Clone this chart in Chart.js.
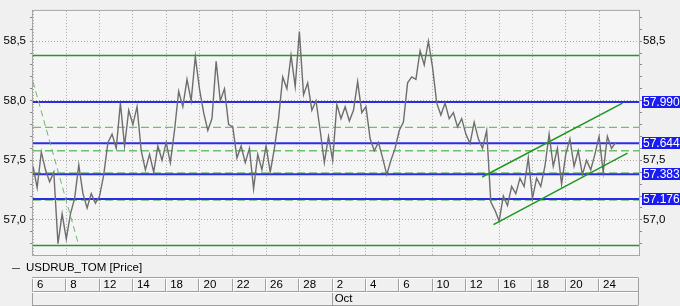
<!DOCTYPE html>
<html><head><meta charset="utf-8">
<script src="https://cdn.jsdelivr.net/npm/chart.js@4.4.1/dist/chart.umd.min.js"></script>
<style>html,body{margin:0;padding:0;background:#f0f0f0;overflow:hidden}canvas{display:block}</style>
</head><body>
<canvas id="c" width="680" height="306"></canvas>
<script>
// ---- data ----
const xTickDays   = [0,2,4,6,8,10,12,14,16,18,20,22,24,26,28,30,32,34];
const xTickLabels = ['6','8','12','14','18','20','22','26','28','2','4','6','10','12','16','18','20','24'];
const monthDays   = [18];
const monthLabels = ['Oct'];
const priceStepDays = 0.25;
const priceValues = [
 57.45,57.27,57.57,57.42,57.32,57.40,56.80,57.05,56.84,57.05,
 57.18,57.46,57.22,57.10,57.22,57.14,57.20,57.38,57.65,57.72,
 57.60,57.98,57.62,57.92,57.80,57.95,57.58,57.42,57.55,57.40,
 57.62,57.50,57.65,57.48,57.75,58.08,57.95,58.18,58.00,58.37,
 58.10,57.90,57.75,57.85,58.33,58.00,58.10,57.80,57.78,57.52,
 57.62,57.48,57.60,57.26,57.55,57.42,57.62,57.40,57.60,57.85,
 58.20,58.10,58.38,58.12,58.58,58.05,58.15,57.92,58.00,57.75,
 57.48,57.70,57.50,57.97,57.85,57.95,57.83,57.92,58.16,57.90,
 57.95,57.68,57.58,57.65,57.52,57.38,57.50,57.60,57.75,57.82,
 58.15,58.20,58.18,58.42,58.30,58.50,58.28,57.98,57.88,57.98,
 57.85,57.90,57.78,57.85,57.72,57.64,57.82,57.68,57.60,57.75,
 57.15,57.08,56.99,57.20,57.12,57.28,57.22,57.35,57.28,57.52,
 57.18,57.35,57.28,57.45,57.72,57.45,57.60,57.30,57.55,57.68,
 57.45,57.58,57.38,57.50,57.42,57.55,57.70,57.40,57.70,57.60,
 57.65
];
const yMajorTicks  = [57.0, 57.5, 58.0, 58.5];
const yMajorLabels = ['57,0','57,5','58,0','58,5'];
const blueLevels        = [57.990, 57.644, 57.383, 57.176];
const greenSolidLevels  = [58.38, 56.785];
const greenDashedLevels = [57.776, 57.58, 57.395, 57.165];
const steepLine    = [[0, 58.16], [2.7, 56.81]];
const channelUpper = [[26.98, 57.36], [35.41, 57.98]];
const channelLower = [[27.66, 56.96], [35.71, 57.56]];
const seriesName = 'USDRUB_TOM [Price]';
const xMin = 0, xMax = 36.4, yMin = 56.705, yMax = 58.754;

// ---- build ----
const FONT = '"Liberation Sans", Arial, sans-serif';
const pricePoints = priceValues.map((v, i) => ({x: i * priceStepDays, y: v}));
const hline = v => [{x: xMin, y: v}, {x: xMax, y: v}];
const seg = s => s.map(p => ({x: p[0], y: p[1]}));
const minorTicks = [];
for (let k = 568; k <= 587; k++) minorTicks.push(k / 10);
const isMajor = v => yMajorTicks.some(m => Math.abs(m - v) < 1e-6);
const majorLabel = v => { const i = yMajorTicks.findIndex(m => Math.abs(m - v) < 1e-6); return i >= 0 ? yMajorLabels[i] : ''; };

const datasets = [];
greenDashedLevels.forEach(v => datasets.push({data: hline(v), borderColor: '#6fbf6f', borderWidth: 1.3, borderDash: [8, 4], order: 5}));
greenSolidLevels.forEach(v => datasets.push({data: hline(v), borderColor: '#2a962a', borderWidth: 1.6, order: 4}));
blueLevels.forEach(v => datasets.push({data: hline(v), borderColor: '#2c2ce6', borderWidth: 2, order: 3}));
datasets.push({data: pricePoints, borderColor: '#6e6e6e', borderWidth: 1.4, order: 2, label: seriesName});
datasets.push({data: seg(steepLine), borderColor: '#66bb66', borderWidth: 1, borderDash: [6, 4], order: 1});
datasets.push({data: seg(channelUpper), borderColor: '#1f961f', borderWidth: 1.5, order: 1});
datasets.push({data: seg(channelLower), borderColor: '#1f961f', borderWidth: 1.5, order: 1});

const decor = {
  id: 'decor',
  beforeDraw(chart) {
    const {ctx, chartArea: a} = chart;
    ctx.save();
    ctx.fillStyle = '#f0f0f0'; ctx.fillRect(0, 0, chart.width, chart.height);
    ctx.fillStyle = '#f5f5f5'; ctx.fillRect(a.left, a.top, a.right - a.left, a.bottom - a.top);
    ctx.restore();
  },
  afterDraw(chart) {
    const {ctx, chartArea: a, scales} = chart;
    ctx.save();
    // plot border
    ctx.strokeStyle = '#a8a8a8'; ctx.lineWidth = 1;
    ctx.strokeRect(a.left - 0.5, a.top - 0.5, a.right - a.left + 1, a.bottom - a.top + 1);
    // legend
    ctx.strokeStyle = '#555'; ctx.lineWidth = 1;
    ctx.beginPath(); ctx.moveTo(12, 268.5); ctx.lineTo(20, 268.5); ctx.stroke();
    ctx.fillStyle = '#000'; ctx.font = '11.5px ' + FONT; ctx.textBaseline = 'middle'; ctx.textAlign = 'left';
    ctx.fillText(seriesName, 26, 268);
    // x band cells
    const L = a.left - 1, R = a.right - 1, r1 = 277.5, r2 = 291.5, r3 = 305.5;
    ctx.strokeStyle = '#a0a0a0';
    ctx.beginPath();
    ctx.moveTo(L, r1); ctx.lineTo(R, r1);
    ctx.moveTo(L, r2); ctx.lineTo(R, r2);
    ctx.moveTo(L, r3); ctx.lineTo(R, r3);
    ctx.moveTo(R + 0.5, r1); ctx.lineTo(R + 0.5, r3);
    xTickDays.forEach(d => { const px = Math.round(scales.x.getPixelForValue(d)) - 0.5; ctx.moveTo(px, r1); ctx.lineTo(px, r2); });
    ctx.moveTo(L + 0.5, r2); ctx.lineTo(L + 0.5, r3);
    monthDays.forEach(d => { const px = Math.round(scales.x.getPixelForValue(d)) - 0.5; ctx.moveTo(px, r2); ctx.lineTo(px, r3); });
    ctx.stroke();
    ctx.strokeStyle = '#ffffff';
    ctx.beginPath();
    ctx.moveTo(L, r1 + 1); ctx.lineTo(R, r1 + 1);
    ctx.moveTo(L, r2 + 1); ctx.lineTo(R, r2 + 1);
    xTickDays.forEach(d => { const px = Math.round(scales.x.getPixelForValue(d)) + 0.5; ctx.moveTo(px, r1 + 1); ctx.lineTo(px, r2); });
    ctx.stroke();
    // value boxes on right
    ctx.font = '12px ' + FONT; ctx.textBaseline = 'middle';
    blueLevels.forEach(v => {
      const py = scales.y.getPixelForValue(v);
      ctx.fillStyle = '#1a1af2';
      ctx.fillRect(642, Math.round(py) - 6, 38, 12);
      ctx.fillStyle = '#ffffff';
      ctx.fillText(v.toFixed(3), 643, py + 0.5);
    });
    ctx.restore();
  }
};

const tickFont = {family: FONT, size: 11.5};
new Chart(document.getElementById('c'), {
  type: 'line',
  data: {datasets},
  options: {
    responsive: false, animation: false, devicePixelRatio: 1,
    layout: {padding: {top: 5, left: 0, right: 0, bottom: 0}},
    elements: {point: {radius: 0}, line: {tension: 0}},
    plugins: {legend: {display: false}, tooltip: {enabled: false}},
    scales: {
      x: {
        type: 'linear', position: 'bottom', min: xMin, max: xMax,
        afterBuildTicks: s => { s.ticks = xTickDays.map(v => ({value: v})); },
        afterFit: s => { s.height = 36; },
        ticks: {autoSkip: false, maxRotation: 0, align: 'start', labelOffset: 4, padding: 23, color: '#000', font: tickFont,
          callback: (v) => { const i = xTickDays.indexOf(v); return i >= 0 ? xTickLabels[i] : ''; }},
        grid: {color: '#a8a8a8', drawTicks: false, lineWidth: 1, borderDash: [1, 2]},
        border: {display: false, dash: [1, 2]}
      },
      x2: {
        type: 'linear', position: 'bottom', min: xMin, max: xMax,
        afterBuildTicks: s => { s.ticks = monthDays.map(v => ({value: v})); },
        afterFit: s => { s.height = 15; },
        ticks: {autoSkip: false, maxRotation: 0, align: 'start', labelOffset: 2, padding: 1, color: '#000', font: tickFont,
          callback: (v) => { const i = monthDays.indexOf(v); return i >= 0 ? monthLabels[i] : ''; }},
        grid: {display: false, drawTicks: false},
        border: {display: false}
      },
      y: {
        type: 'linear', position: 'left', min: yMin, max: yMax,
        afterBuildTicks: s => { s.ticks = minorTicks.map(v => ({value: v})); },
        afterFit: s => { s.width = 33; },
        ticks: {autoSkip: false, padding: 4, color: '#000', font: tickFont, callback: v => majorLabel(v)},
        grid: {color: c => isMajor(c.tick.value) ? '#a8a8a8' : 'rgba(0,0,0,0)', tickColor: '#888', tickLength: 3, drawTicks: true, borderDash: [1, 2], tickBorderDash: []},
        border: {display: false, dash: [1, 2]}
      },
      yr: {
        type: 'linear', position: 'right', min: yMin, max: yMax,
        afterBuildTicks: s => { s.ticks = minorTicks.map(v => ({value: v})); },
        afterFit: s => { s.width = 41; },
        ticks: {autoSkip: false, padding: 1, color: '#000', font: tickFont, callback: v => majorLabel(v)},
        grid: {drawOnChartArea: false, tickColor: '#888', tickLength: 3},
        border: {display: false}
      }
    }
  },
  plugins: [decor]
});
</script>
</body></html>
